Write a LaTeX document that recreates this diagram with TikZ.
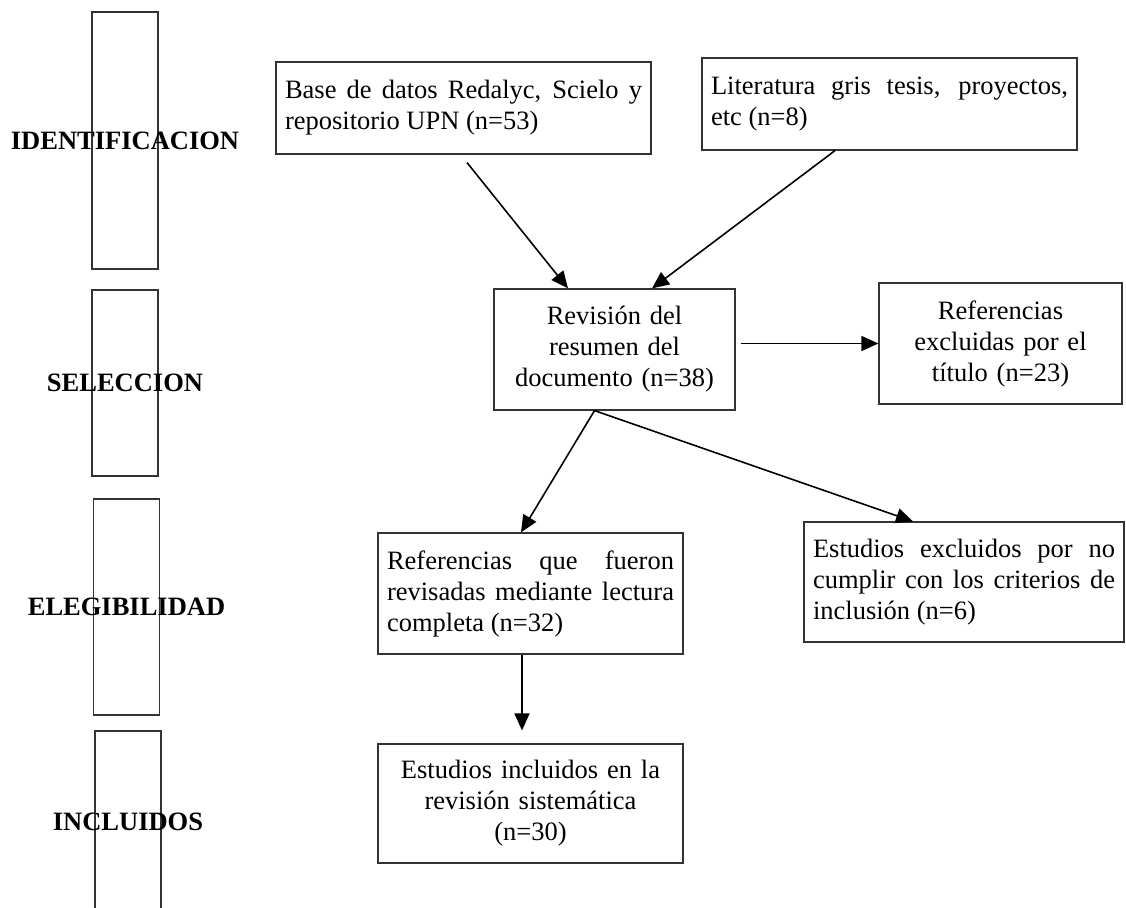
\documentclass[tikz,border=0pt]{standalone}
\usepackage{fontspec}
\setmainfont{Liberation Serif}
\usetikzlibrary{arrows.meta,positioning}
\hyphenpenalty=10000
\tolerance=9999
\tikzset{
  caja/.style={draw=black!80,line width=1.2pt,inner sep=0pt,font=\fontsize{26.5}{31}\selectfont},
  fase/.style={draw=black!80,line width=1.2pt,inner sep=0pt,minimum width=66pt},
  etapa/.style={font=\fontsize{26.5}{31}\selectfont\bfseries},
  flecha/.style={-{Triangle[length=17pt,width=15pt]},line width=1.6pt},
}

\begin{document}
\begin{tikzpicture}[x=1pt,y=-1pt]
	\useasboundingbox (0,0) rectangle (1126,907);
	\clip (0,0) rectangle (1126,907);
	
	\node[fase,minimum height=257] (fase1) at (125,140.5) {};
	\node[fase,minimum height=186] (fase2) at (125,383) {};
	\node[fase,minimum height=216] (fase3) at (126.5,607) {};
	\node[fase,minimum height=182] (fase4) at (128,822) {};
	\node[etapa] (et1) at (fase1) {IDENTIFICACION};
	\node[etapa] (et2) at (fase2) {SELECCION};
	\node[etapa] (et3) at (fase3) {ELEGIBILIDAD};
	\node[etapa] (et4) at (fase4) {INCLUIDOS};
	
	\node[caja,minimum width=375,minimum height=92,text width=357,align=justify] (A) at (463.5,108) {Base de datos Redalyc, Scielo y repositorio UPN (n=53)};
	\node[caja,minimum width=375,minimum height=92,text width=357,align=justify] (B) at (889.5,104) {Literatura gris tesis, proyectos, etc (n=8)};
	\node[caja,minimum width=241,minimum height=121,text width=223,align=center] (C) at (614.5,349.5) {Revisión del\\resumen del\\documento (n=38)};
	\node[caja,minimum width=243,minimum height=121,text width=225,align=center] (D) at (1000.5,343.5) {Referencias\\excluidas por el\\título (n=23)};
	\node[caja,minimum width=305,minimum height=121,text width=287,align=justify] (E) at (530.5,593.5) {Referencias que fueron revisadas mediante lectura completa (n=32)};
	\node[caja,minimum width=320,minimum height=120,text width=302,align=justify] (F) at (964,582) {Estudios excluidos por no cumplir con los criterios de inclusión (n=6)};
	\node[caja,minimum width=305,minimum height=119,text width=287,align=center] (G) at (530.5,803.5) {Estudios incluidos en la\\revisión sistemática\\(n=30)};
	
	\draw[flecha] ([xshift=3.5pt,yshift=-8pt]A.south) -- ([xshift=-46.5pt]C.north);
	\draw[flecha] ([xshift=-54.5pt]B.south) -- ([xshift=37.5pt]C.north);
	\draw[flecha] ([xshift=5pt]C.east |- D.west) -- (D.west);
	\draw[flecha] ([xshift=-20pt]C.south) -- ([xshift=-9.5pt]E.north);
	\draw[flecha] ([xshift=-20pt]C.south) -- ([xshift=-51pt]F.north);
	\draw[flecha] ([xshift=-8.5pt]E.south) -- ([xshift=-8.5pt,yshift=13pt]G.north);
\end{tikzpicture}
\end{document}
